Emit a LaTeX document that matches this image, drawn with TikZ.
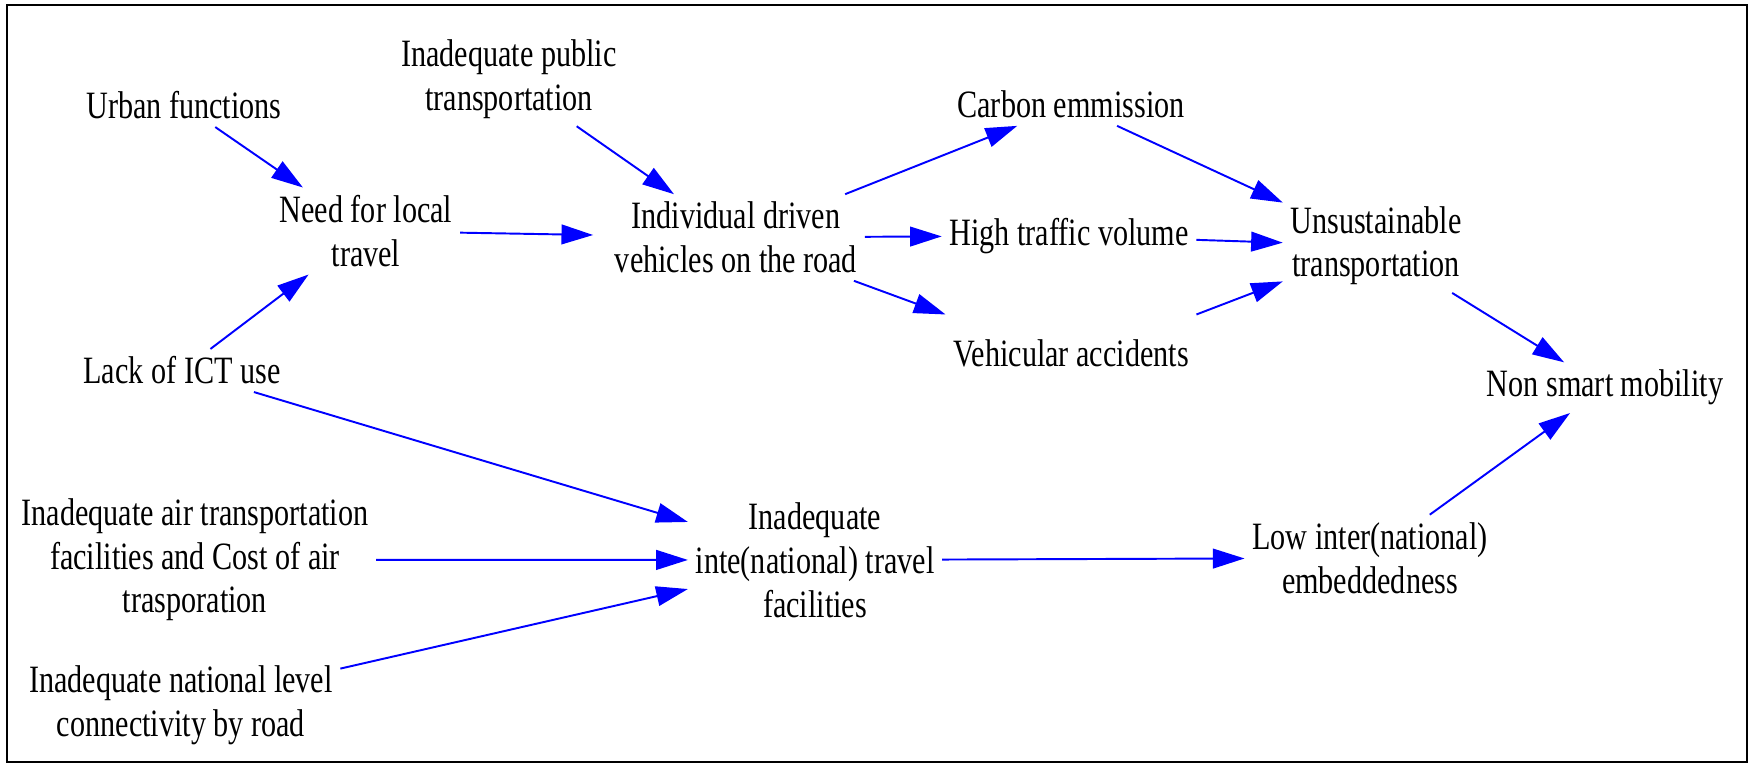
\documentclass[tikz,border=0pt]{standalone}
\usepackage{fontspec}
\setmainfont[FakeStretch=0.78]{Liberation Serif}
\usetikzlibrary{arrows,arrows.meta,positioning}
\tikzset{
  var/.style={align=center,inner sep=2pt,font=\fontsize{11pt}{12.5pt}\selectfont},
  link/.style={->,blue,line width=0.55pt},
}

\begin{document}
\begin{tikzpicture}[x=0.01cm,y=-0.01cm,>={Triangle[length=9pt,width=5.6pt]}]
\useasboundingbox (0,0) rectangle (1748,763);
\draw[line width=0.6pt] (7,5) rectangle (1747,762);
%
\node (urban) [var] at (184,105.5) {Urban functions};
\node (public) [var] at (509,79) {Inadequate public\\transportation};
\node (need) [var] at (366,231) {Need for local\\travel};
\node (lack) [var] at (182,370.5) {Lack of ICT use};
\node (indiv) [var] at (736,237.5) {Individual driven\\vehicles on the road};
\node (carbon) [var] at (1071,104.5) {Carbon emmission};
\node (high) [var] at (1069,235.7) {High traffic volume};
\node (vehic) [var] at (1071,353.5) {Vehicular accidents};
\node (unsust) [var] at (1376,245.7) {Unsustainable\\transportation};
\node (nonsmart) [var] at (1605,387.7) {Non smart mobility};
\node (air) [var] at (195,559.7) {Inadequate air transportation\\facilities and Cost of air\\trasporation};
\node (natl) [var] at (181,705) {Inadequate national level\\connectivity by road};
\node (inte) [var] at (815,560) {Inadequate\\inte(national) travel\\facilities};
\node (low) [var] at (1370,558) {Low inter(national)\\embeddedness};
%
\path[link]
(urban) edge (need)
(lack) edge (need)
(public) edge (indiv)
(need) edge [shorten >=4pt] (indiv)
(indiv) edge (carbon)
(indiv) edge (high)
(indiv) edge ([yshift=5pt]vehic.north west)
(carbon) edge (unsust)
(high) edge (unsust)
([yshift=5pt]vehic.north east) edge (unsust)
(unsust) edge (nonsmart)
(lack) edge (inte)
(air) edge (inte)
(natl) edge (inte)
(inte) edge (low)
(low) edge (nonsmart)
;
\end{tikzpicture}
\end{document}
